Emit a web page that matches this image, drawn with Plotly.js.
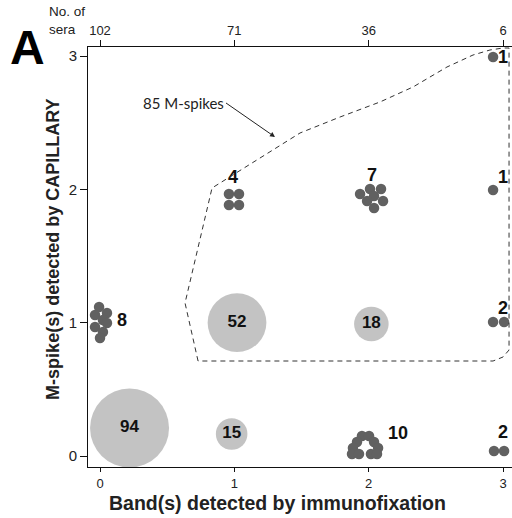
<!DOCTYPE html>
<html>
<head>
<meta charset="utf-8">
<script src="https://cdn.plot.ly/plotly-3.0.1.min.js"></script>
<style>html,body{margin:0;padding:0;background:#fff;}#chart{width:512px;height:518px;}</style>
</head>
<body>
<div id="chart"></div>
<script>
// Axis ticks
const bandTicks = [0, 1, 2, 3];
const seraCounts = ['102', '71', '36', '6'];
const spikeTicks = [0, 1, 2, 3];

// Large bubbles (counts drawn as area-scaled circles)
const bubbleX = [0.22, 0.98, 1.02, 2.02];
const bubbleY = [0.21, 0.165, 1.0, 0.99];
const bubbleN = [94, 15, 52, 18];

// Individual sera drawn as small dots (jittered around their grid cell)
const dotX = [
  -0.007, 0.052, -0.037, 0.022, 0.052, -0.037, 0.022, 0.0,          // 8 at (0,1)
  0.960, 1.035, 0.960, 1.035,                                         // 4 at (1,2)
  1.936, 2.010, 2.092, 2.040, 1.988, 2.107, 2.040,                    // 7 at (2,2)
  2.926,                                                              // 1 at (3,3)
  2.926,                                                              // 1 at (3,2)
  2.926, 3.008,                                                       // 2 at (3,1)
  2.933, 3.008,                                                       // 2 at (3,0)
  1.950, 2.003, 1.913, 2.040, 1.883, 2.070, 1.876, 1.928, 2.017, 2.062 // 10 at (2,0)
];
const dotY = [
  1.1175, 1.0725, 1.0575, 1.02, 0.9975, 0.9675, 0.93, 0.885,
  1.965, 1.965, 1.8825, 1.8825,
  1.965, 2.0025, 2.0025, 1.95, 1.9125, 1.9125, 1.86,
  2.9925,
  1.995,
  1.005, 1.005,
  0.0375, 0.0375,
  0.15, 0.15, 0.105, 0.105, 0.06, 0.06, 0.015, 0.015, 0.015, 0.015
];

// Cluster count labels
const clusterN = ['8', '4', '7', '1', '1', '2', '2', '10'];
const clusterLabelX = [0.164, 0.991, 2.025, 3.0, 3.0, 3.0, 3.0, 2.218];
const clusterLabelY = [1.0125, 2.085, 2.1, 2.985, 2.085, 1.1025, 0.1725, 0.165];

// Outline of the 85 M-spikes region
const regionX = [0.73, 0.633, 0.834, 1.489, 1.787, 2.084, 2.33, 2.583, 2.777, 2.903, 3.0, 3.045, 3.045, 3.0, 2.926];
const regionY = [0.7125, 1.1475, 2.01, 2.4225, 2.5425, 2.655, 2.7675, 2.9175, 3.0075, 3.045, 3.06, 3.06, 0.795, 0.7425, 0.7125];

const FONT = 'Liberation Sans, Arial, Helvetica, sans-serif';

const traces = [
  {
    type: 'scatter', mode: 'markers+text', x: bubbleX, y: bubbleY,
    text: bubbleN.map(String), textposition: 'middle center',
    textfont: {family: FONT, size: 17, color: '#111', weight: 'bold'},
    marker: {size: bubbleN, sizemode: 'area', sizeref: 2 * 94 / (79 * 79), color: '#a9a9a9', line: {width: 0}},
    hoverinfo: 'skip', cliponaxis: false, showlegend: false
  },
  {
    type: 'scatter', mode: 'markers', x: dotX, y: dotY,
    marker: {size: 10.5, color: '#616161', line: {width: 0}},
    hoverinfo: 'skip', cliponaxis: false, showlegend: false
  },
  {
    type: 'scatter', mode: 'text', x: clusterLabelX, y: clusterLabelY,
    text: clusterN, textposition: 'middle center',
    textfont: {family: FONT, size: 18, color: '#111', weight: 'bold'},
    hoverinfo: 'skip', cliponaxis: false, showlegend: false
  },
  {
    type: 'scatter', mode: 'markers', x: [0], y: [0], xaxis: 'x2',
    marker: {size: 1, opacity: 0}, hoverinfo: 'skip', showlegend: false
  }
];

const pathStr = regionX.map((v, i) => (i === 0 ? 'M' : 'L') + v + ',' + regionY[i]).join(' ') + ' Z';

const layout = {
  width: 512, height: 518,
  margin: {l: 88, r: 0, t: 47, b: 51},
  paper_bgcolor: '#fff', plot_bgcolor: '#fff',
  font: {family: FONT, color: '#222'},
  xaxis: {
    range: [-0.0893, 3.067], tickvals: bandTicks, ticktext: bandTicks.map(String),
    showgrid: false, zeroline: false, showline: true, linecolor: '#111', linewidth: 1,
    ticks: 'outside', ticklen: 4, tickcolor: '#111', tickfont: {size: 13, color: '#222'}
  },
  xaxis2: {
    overlaying: 'x', side: 'top', matches: 'x', range: [-0.0893, 3.067],
    tickvals: bandTicks, ticktext: seraCounts,
    showgrid: false, zeroline: false, showline: true, linecolor: '#111', linewidth: 1,
    ticks: 'outside', ticklen: 6, tickcolor: '#111', tickfont: {size: 13, color: '#222'}
  },
  yaxis: {
    range: [-0.0825, 3.0675], tickvals: spikeTicks, ticktext: spikeTicks.map(String),
    showgrid: false, zeroline: false, showline: true, linecolor: '#111', linewidth: 1,
    ticks: 'outside', ticklen: 7, tickcolor: '#111', tickfont: {size: 15, color: '#222'}
  },
  shapes: [
    {type: 'path', xref: 'x', yref: 'y', path: pathStr, line: {color: '#333', width: 1, dash: '5px,4px'}, fillcolor: 'rgba(0,0,0,0)'}
  ],
  annotations: [
    {xref: 'paper', yref: 'paper', x: 0.448, y: -0.0855, text: 'Band(s) detected by immunofixation',
     showarrow: false, xanchor: 'center', yanchor: 'middle', font: {family: FONT, size: 19.5, color: '#222', weight: 'bold'}},
    {xref: 'paper', yref: 'paper', x: -0.0825, y: 0.517, text: 'M-spike(s) detected by CAPILLARY', textangle: -90,
     showarrow: false, xanchor: 'center', yanchor: 'middle', font: {family: FONT, size: 18, color: '#222', weight: 'bold'}},
    {xref: 'paper', yref: 'paper', x: -0.142, y: 1.0, text: 'A', showarrow: false, xanchor: 'center', yanchor: 'middle',
     font: {family: FONT, size: 48, color: '#000', weight: 'bold'}},
    {xref: 'paper', yref: 'paper', x: -0.0967, y: 1.062, text: 'No. of<br>sera', showarrow: false, xanchor: 'left', yanchor: 'middle',
     align: 'left', font: {family: FONT, size: 13.5, color: '#222'}},
    {xref: 'x', yref: 'y', x: (275 - 100) / 134.33, y: (456 - 137) / 133.33, ax: -49, ay: -34,
     text: '85 M-spikes', showarrow: true, arrowhead: 2, arrowsize: 1, arrowwidth: 1, arrowcolor: '#222',
     xanchor: 'right', yanchor: 'middle', font: {family: 'Lato, Open Sans, sans-serif', size: 15, color: '#222'}}
  ]
};

Plotly.newPlot('chart', traces, layout, {staticPlot: true, displayModeBar: false});
</script>
</body>
</html>
